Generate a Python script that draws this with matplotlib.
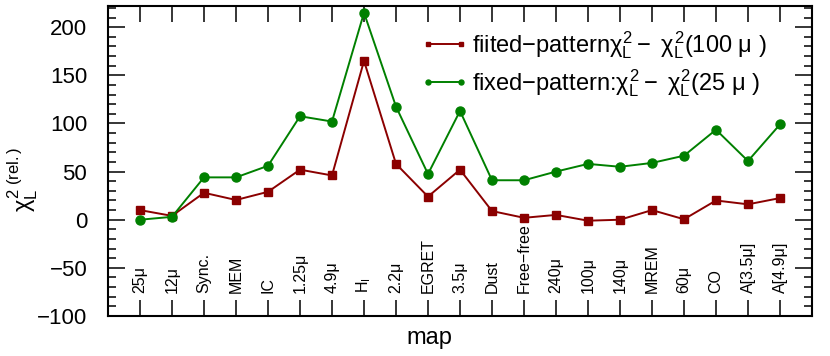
import numpy as np
import matplotlib.pyplot as plt
from matplotlib.ticker import MultipleLocator
import matplotlib.transforms as mtransforms

plt.rcParams['font.family'] = ['Liberation Sans', 'DejaVu Sans']
plt.rcParams['mathtext.fontset'] = 'custom'
plt.rcParams['mathtext.rm'] = 'Liberation Sans'
plt.rcParams['mathtext.it'] = 'Liberation Sans'
plt.rcParams['mathtext.bf'] = 'Liberation Sans:bold'

maps = ['25\u03bc', '12\u03bc', 'Sync.', 'MEM', 'IC', '1.25\u03bc', '4.9\u03bc',
        r'H$_{\rm I}$', '2.2\u03bc', 'EGRET', '3.5\u03bc', 'Dust', 'Free\u2212free',
        '240\u03bc', '100\u03bc', '140\u03bc', 'MREM', '60\u03bc', 'CO',
        'A[3.5\u03bc]', 'A[4.9\u03bc]']
fitted = [10, 4, 28, 20.5, 29, 52, 46, 165, 58, 24, 52, 9, 2, 5, -1, 0, 10, 0.5, 20, 16, 22.5]
fixed = [0, 3, 44, 44, 56, 107.5, 102, 215, 117.5, 47.5, 113, 41, 41, 50, 58, 55, 59, 66.5, 93.5, 61, 99]

x = np.arange(1, len(maps) + 1)

fig = plt.figure(figsize=(8.3, 3.56), dpi=100)
ax = fig.add_axes([108/830, 40/356, 704/830, 310/356])

ax.plot(x, fitted, '-s', color='#8b0000', lw=1.4, ms=6,
        label='fiited\u2212pattern' + r'$\chi_L^2 - \ \chi_L^2(100\ \mu\ )$')
ax.plot(x, fixed, '-o', color='#008000', lw=1.4, ms=6.5,
        label='fixed\u2212pattern:' + r'$\chi_L^2 - \ \chi_L^2(25\ \mu\ )$')

ax.set_xlim(0, len(maps) + 1)
ax.set_ylim(-100, 222)
ax.set_xticks(x)
ax.set_xticklabels([])
ax.yaxis.set_major_locator(MultipleLocator(50))
ax.yaxis.set_minor_locator(MultipleLocator(10))
ax.tick_params(axis='x', which='major', direction='in', length=11.5, width=1.1,
               top=True, bottom=True)
ax.tick_params(axis='y', which='major', direction='in', length=12, width=1.1,
               left=True, right=True, labelsize=16, pad=15)
ax.tick_params(axis='y', which='minor', direction='in', length=6, width=1.1,
               left=True, right=True)
for s in ax.spines.values():
    s.set_linewidth(1.5)

trans = mtransforms.blended_transform_factory(ax.transData, ax.transAxes)
for xi, name in zip(x, maps):
    ax.text(xi, 0.074, name, rotation=90, ha='center', va='bottom',
            fontsize=11.5, transform=trans)

ax.set_xlabel('map', fontsize=17)
ax.xaxis.set_label_coords(0.456, -0.035)
ax.set_ylabel(r'$\chi_L^{2\ \rm (rel.)}$', fontsize=17)
ax.yaxis.set_label_coords(-0.097, 0.44)

ax.legend(loc='upper right', bbox_to_anchor=(0.955, 0.97), frameon=False,
          fontsize=17, numpoints=2, markerscale=0.55, handlelength=2.0,
          handletextpad=0.15, labelspacing=0.25, borderaxespad=0.2)

fig.savefig('out.png', dpi=100)
